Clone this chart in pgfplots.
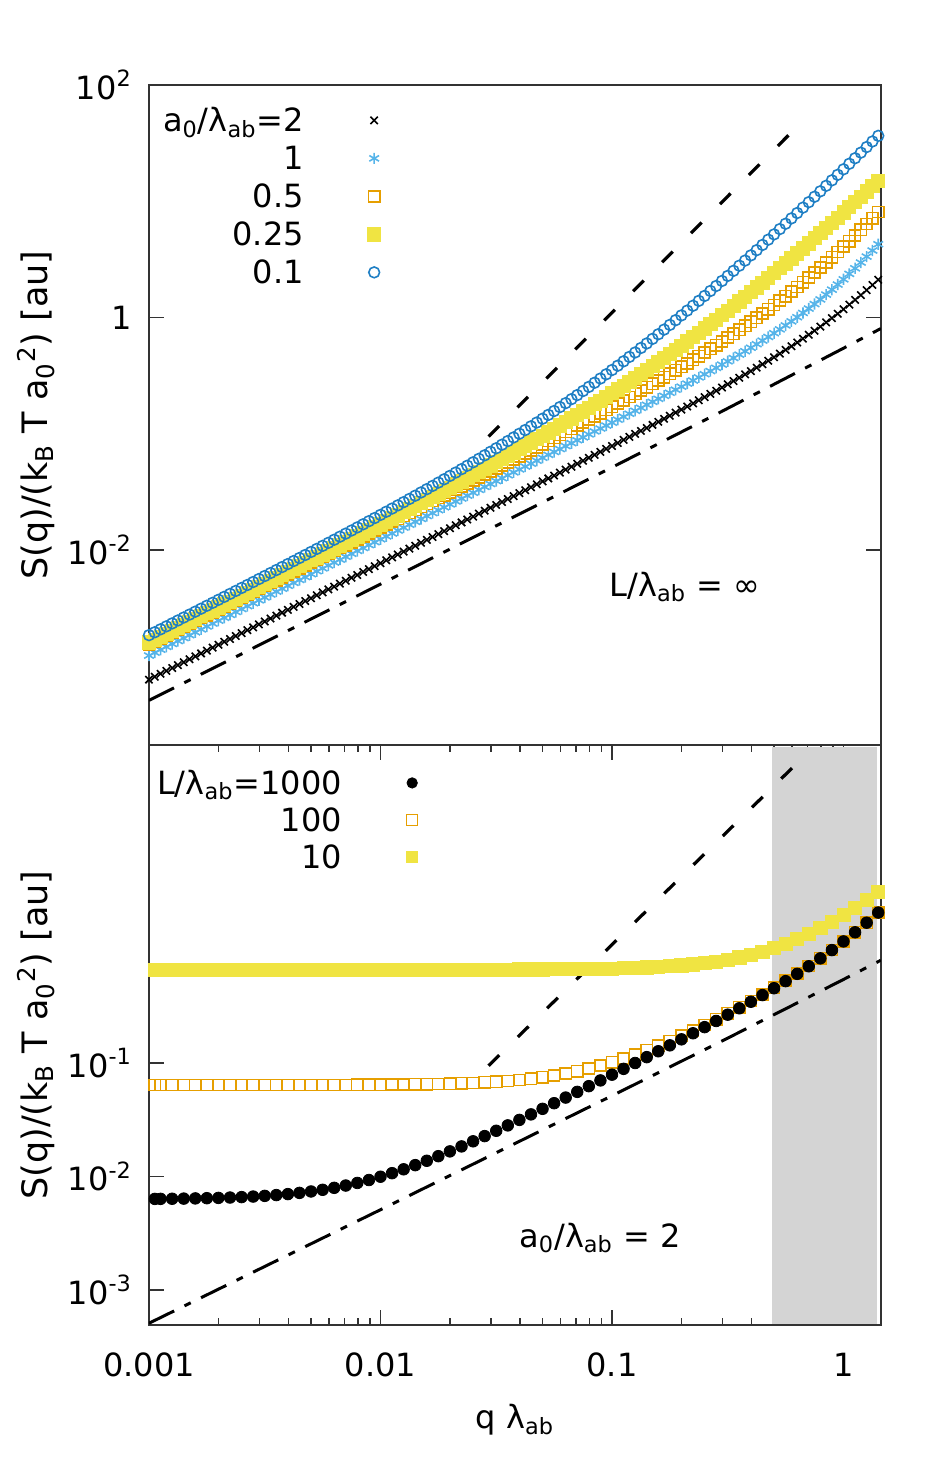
\documentclass[border=0pt]{standalone}
\usepackage{fontspec}
\setmainfont{DejaVu Sans}
\usepackage{pgfplots}
\usepackage{pgfplotstable}
\pgfplotsset{compat=1.18}

\definecolor{gpsky}{HTML}{56B4E9}
\definecolor{gporange}{HTML}{E69F00}
\definecolor{gpyellow}{HTML}{F0E442}
\definecolor{gpblue}{HTML}{1F7FC4}
\definecolor{bandgray}{HTML}{D4D4D4}
\definecolor{framegray}{HTML}{333333}

% S(q) for an infinite film, one column per a0/lambda_ab (2, 1, 0.5, 0.25, 0.1)
\pgfplotstableread{
q t1 t2 t3 t4 t5
0.001 7.70e-4 1.240e-3 1.552e-3 1.606e-3 1.857e-3
0.001122 8.64e-4 1.391e-3 1.741e-3 1.803e-3 2.086e-3
0.001259 9.69e-4 1.561e-3 1.954e-3 2.024e-3 2.344e-3
0.001413 1.088e-3 1.752e-3 2.193e-3 2.274e-3 2.634e-3
0.001585 1.220e-3 1.965e-3 2.461e-3 2.552e-3 2.959e-3
0.001778 1.369e-3 2.205e-3 2.761e-3 2.865e-3 3.325e-3
0.001995 1.536e-3 2.474e-3 3.098e-3 3.218e-3 3.739e-3
0.002239 1.724e-3 2.776e-3 3.478e-3 3.614e-3 4.205e-3
0.002512 1.934e-3 3.115e-3 3.903e-3 4.059e-3 4.729e-3
0.002818 2.170e-3 3.494e-3 4.380e-3 4.560e-3 5.320e-3
0.003162 2.435e-3 3.921e-3 4.916e-3 5.123e-3 5.988e-3
0.003548 2.732e-3 4.400e-3 5.518e-3 5.758e-3 6.742e-3
0.003981 3.065e-3 4.936e-3 6.194e-3 6.471e-3 7.594e-3
0.004467 3.440e-3 5.539e-3 6.954e-3 7.275e-3 8.558e-3
0.005012 3.859e-3 6.215e-3 7.806e-3 8.180e-3 9.649e-3
0.005623 4.330e-3 6.973e-3 8.763e-3 9.200e-3 1.0884e-2
0.006310 4.859e-3 7.824e-3 9.840e-3 1.0351e-2 1.2287e-2
0.007079 5.451e-3 8.778e-3 1.1047e-2 1.1648e-2 1.3877e-2
0.007943 6.116e-3 9.849e-3 1.2407e-2 1.3113e-2 1.5688e-2
0.008913 6.863e-3 1.1050e-2 1.3934e-2 1.4770e-2 1.7750e-2
0.01 7.715e-3 1.2401e-2 1.5651e-2 1.6641e-2 2.0100e-2
0.01122 8.658e-3 1.3914e-2 1.7581e-2 1.8759e-2 2.2785e-2
0.01259 9.718e-3 1.5614e-2 1.9755e-2 2.1160e-2 2.5861e-2
0.01413 1.0911e-2 1.7524e-2 2.2204e-2 2.3887e-2 2.9391e-2
0.01585 1.2244e-2 1.9658e-2 2.4949e-2 2.6970e-2 3.3434e-2
0.01778 1.3740e-2 2.2052e-2 2.8039e-2 3.0475e-2 3.8090e-2
0.01995 1.5424e-2 2.4745e-2 3.1528e-2 3.4472e-2 4.3476e-2
0.02239 1.7318e-2 2.7774e-2 3.5468e-2 3.9037e-2 4.9718e-2
0.02512 1.9441e-2 3.1163e-2 3.9899e-2 4.4237e-2 5.6948e-2
0.02818 2.1824e-2 3.4963e-2 4.4893e-2 5.0179e-2 6.5354e-2
0.03162 2.4505e-2 3.9237e-2 5.0543e-2 5.7002e-2 7.5181e-2
0.03548 2.7520e-2 4.4035e-2 5.6929e-2 6.4838e-2 8.6686e-2
0.03981 3.0908e-2 4.9420e-2 6.4148e-2 7.3856e-2 0.10020
0.04467 3.4718e-2 5.5471e-2 7.2323e-2 8.4260e-2 0.11611
0.05012 3.9001e-2 6.2261e-2 8.1583e-2 9.6294e-2 0.13493
0.05623 4.3817e-2 6.9884e-2 9.2082e-2 0.11024 0.15722
0.06310 4.9249e-2 7.8468e-2 0.10403 0.12648 0.18378
0.07079 5.5352e-2 8.8097e-2 0.11761 0.14539 0.21546
0.07943 6.2237e-2 9.8941e-2 0.13310 0.16754 0.25342
0.08913 7.0005e-2 0.11115 0.15079 0.19352 0.29903
0.1 7.8759e-2 0.12489 0.17103 0.22410 0.35400
0.1122 8.8649e-2 0.14039 0.19424 0.26022 0.42048
0.1259 9.9838e-2 0.15790 0.22097 0.30304 0.50111
0.1413 0.11252 0.17773 0.25183 0.35396 0.59914
0.1585 0.12684 0.20010 0.28744 0.41462 0.71868
0.1778 0.14311 0.22549 0.32878 0.48716 0.86469
0.1995 0.16164 0.25447 0.37708 0.57438 1.04385
0.2239 0.18283 0.28766 0.43373 0.67951 1.26402
0.2512 0.20699 0.32564 0.50026 0.80639 1.53491
0.2818 0.23470 0.36943 0.57889 0.96003 1.86882
0.3162 0.26666 0.42033 0.67252 1.14692 2.28181
0.3548 0.30365 0.47984 0.78458 1.37470 2.79313
0.3981 0.34666 0.54999 0.91948 1.65295 3.42700
0.4467 0.39697 0.63350 1.08299 1.99352 4.21343
0.5012 0.45621 0.73392 1.28271 2.41211 5.19261
0.5623 0.52645 0.85603 1.52811 2.92652 6.41003
0.6310 0.61065 1.00676 1.83268 3.56142 7.92874
0.7079 0.71216 1.19463 2.21272 4.34533 9.82294
0.7943 0.83607 1.43250 2.69140 5.31559 12.1885
0.8913 0.98879 1.73737 3.29856 6.51754 15.1431
1 1.17900 2.13300 4.07500 8.01000 18.8400
1.122 1.41876 2.65263 5.07524 9.86465 23.4655
1.259 1.72389 3.34323 6.37456 12.1748 29.2630
1.413 2.11712 4.27145 8.07676 15.0588 36.5416
1.46 2.25000 4.58950 8.65030 15.9996 38.9236
0.0010593 8.159e-4 1.3135e-3 1.6436e-3 1.7021e-3 1.9682e-3
0.0011885 9.153e-4 1.4737e-3 1.8443e-3 1.9107e-3 2.2108e-3
0.0013335 1.0271e-3 1.6535e-3 2.0696e-3 2.1450e-3 2.4838e-3
0.0014962 1.1524e-3 1.8553e-3 2.3225e-3 2.4083e-3 2.7911e-3
0.0016788 1.2931e-3 2.0817e-3 2.6063e-3 2.7042e-3 3.1369e-3
0.0018836 1.4509e-3 2.3357e-3 2.9249e-3 3.0365e-3 3.5261e-3
0.0021135 1.6281e-3 2.6207e-3 3.2826e-3 3.4102e-3 3.9647e-3
0.0023714 1.8268e-3 2.9405e-3 3.6841e-3 3.8303e-3 4.4590e-3
0.0026607 2.0498e-3 3.2993e-3 4.1347e-3 4.3025e-3 5.0161e-3
0.0029854 2.3001e-3 3.7019e-3 4.6408e-3 4.8337e-3 5.6446e-3
0.0033497 2.5810e-3 4.1536e-3 5.2088e-3 5.4314e-3 6.3541e-3
0.0037584 2.8961e-3 4.6604e-3 5.8467e-3 6.1040e-3 7.1556e-3
0.0042170 3.2498e-3 5.2291e-3 6.5631e-3 6.8612e-3 8.0616e-3
0.0047315 3.6467e-3 5.8671e-3 7.3674e-3 7.7139e-3 9.0866e-3
0.0053088 4.0920e-3 6.5829e-3 8.2709e-3 8.6748e-3 1.02473e-2
0.0059566 4.5919e-3 7.3862e-3 9.2859e-3 9.7580e-3 1.15633e-2
0.0066834 5.1529e-3 8.2874e-3 1.04263e-2 1.09797e-2 1.30569e-2
0.0074989 5.7826e-3 9.2986e-3 1.17077e-2 1.23587e-2 1.47540e-2
0.0084140 6.4894e-3 1.04334e-2 1.31479e-2 1.39162e-2 1.66853e-2
0.0094406 7.2827e-3 1.17063e-2 1.47666e-2 1.56763e-2 1.88858e-2
0.010593 8.1737e-3 1.31364e-2 1.65887e-2 1.76680e-2 2.13985e-2
0.011885 9.1731e-3 1.47389e-2 1.86354e-2 1.99214e-2 2.42697e-2
0.013335 1.02953e-2 1.65375e-2 2.09384e-2 2.24759e-2 2.75595e-2
0.014962 1.15552e-2 1.85559e-2 2.35303e-2 2.53742e-2 3.13359e-2
0.016788 1.29703e-2 2.08213e-2 2.64490e-2 2.86674e-2 3.56812e-2
0.018836 1.45587e-2 2.33626e-2 2.97349e-2 3.24119e-2 4.06900e-2
0.021135 1.63435e-2 2.62158e-2 3.34390e-2 3.66792e-2 4.64820e-2
0.023714 1.83476e-2 2.94173e-2 3.76139e-2 4.15470e-2 5.31936e-2
0.026607 2.05985e-2 3.30095e-2 4.23221e-2 4.71092e-2 6.09921e-2
0.029854 2.31282e-2 3.70428e-2 4.76379e-2 5.34793e-2 7.00827e-2
0.033497 2.59707e-2 4.15699e-2 5.36419e-2 6.07872e-2 8.07085e-2
0.037584 2.91653e-2 4.66516e-2 6.04284e-2 6.91885e-2 9.31671e-2
0.042170 3.27571e-2 5.23578e-2 6.81079e-2 7.88709e-2 0.107824
0.047315 3.67958e-2 5.87652e-2 7.68050e-2 9.00541e-2 0.125118
0.053088 4.13393e-2 6.59627e-2 8.66674e-2 0.103007 0.145595
0.059566 4.64528e-2 7.40505e-2 9.78661e-2 0.118049 0.169919
0.066834 5.22095e-2 8.31408e-2 0.110599 0.135566 0.198911
0.074989 5.86942e-2 9.33630e-2 0.125100 0.156028 0.233578
0.084140 6.60040e-2 0.104866 0.141647 0.180004 0.275170
0.094406 7.42474e-2 0.117814 0.160560 0.208179 0.325220
0.10593 0.083557 0.132414 0.182240 0.241408 0.385651
0.11885 0.094069 0.148873 0.207127 0.280701 0.458809
0.13335 0.105961 0.167472 0.235799 0.327349 0.547675
0.14962 0.119433 0.188520 0.268925 0.382893 0.655880
0.16788 0.134721 0.212396 0.307340 0.449267 0.788027
0.18836 0.152090 0.239534 0.352030 0.528809 0.949759
0.21135 0.171885 0.270504 0.404272 0.624482 1.14824
0.23714 0.194487 0.305962 0.465586 0.739884 1.39232
0.26607 0.220372 0.346748 0.537909 0.879512 1.69309
0.29854 0.250136 0.393950 0.623697 1.048955 2.06444
0.33497 0.284491 0.448926 0.726028 1.255154 2.52375
0.37584 0.324335 0.513450 0.848842 1.506757 3.09280
0.42170 0.370806 0.589873 0.997244 1.81461 3.79904
0.47315 0.425343 0.681301 1.177766 2.192047 4.67639
0.53088 0.489806 0.791902 1.398985 2.656002 5.76810
0.59566 0.566620 0.927354 1.672122 3.227388 7.12778
0.66834 0.658946 1.095338 2.011951 3.932563 8.82331
0.74989 0.770986 1.306442 2.438083 4.804423 10.93958
0.84140 0.908347 1.575260 2.976647 5.884200 13.58333
0.94406 1.078537 1.922004 3.662603 7.223409 16.88832
1.0593 1.291783 2.374863 4.543128 8.886900 21.02311
1.1885 1.561829 2.972908 5.681695 10.955725 26.19934
1.3335 1.907733 3.771200 7.165060 13.532503 32.68474
}\infinitefilm

% S(q) at a0/lambda_ab = 2, one column per L/lambda_ab (1000, 100, 10)
\pgfplotstableread{
q b1 b2 b3
0.00106 6.353e-3 0.06400 0.665
0.001122 6.359e-3 0.06401 0.665
0.001259 6.374e-3 0.06401 0.665
0.001413 6.393e-3 0.06401 0.665
0.001585 6.417e-3 0.06401 0.665
0.001778 6.447e-3 0.06401 0.665
0.001995 6.485e-3 0.06402 0.665
0.002239 6.532e-3 0.06402 0.665
0.002512 6.590e-3 0.06403 0.665
0.002818 6.663e-3 0.06404 0.665
0.003162 6.754e-3 0.06405 0.665
0.003548 6.867e-3 0.06406 0.665
0.003981 7.006e-3 0.06407 0.665
0.004467 7.178e-3 0.06409 0.665
0.005012 7.388e-3 0.06412 0.665
0.005623 7.645e-3 0.06415 0.665
0.006310 7.956e-3 0.06418 0.665
0.007079 8.331e-3 0.06423 0.6651
0.007943 8.781e-3 0.06429 0.6651
0.008913 9.316e-3 0.06437 0.6651
0.01 9.960e-3 0.06446 0.6652
0.01122 1.0707e-2 0.06458 0.6652
0.01259 1.1581e-2 0.06473 0.6652
0.01413 1.2599e-2 0.06492 0.6653
0.01585 1.3770e-2 0.06516 0.6654
0.01778 1.5116e-2 0.06546 0.6655
0.01995 1.6661e-2 0.06583 0.6656
0.02239 1.8428e-2 0.06630 0.6658
0.02512 2.0436e-2 0.06689 0.6660
0.02818 2.2715e-2 0.06762 0.6662
0.03162 2.5302e-2 0.06853 0.6665
0.03548 2.8232e-2 0.06967 0.6669
0.03981 3.1544e-2 0.07107 0.6674
0.04467 3.5285e-2 0.07281 0.6681
0.05012 3.9507e-2 0.07495 0.6689
0.05623 4.4268e-2 0.07756 0.6699
0.06310 4.9650e-2 0.08076 0.6711
0.07079 5.5709e-2 0.08462 0.6727
0.07943 6.2555e-2 0.08927 0.6747
0.08913 7.0288e-2 0.09485 0.6772
0.1 7.9011e-2 0.10148 0.6803
0.1122 8.8873e-2 0.10934 0.6842
0.1259 0.10004 0.11859 0.6892
0.1413 0.11270 0.12945 0.6954
0.1585 0.12700 0.14208 0.7031
0.1778 0.14324 0.15676 0.7129
0.1995 0.16177 0.17385 0.7251
0.2239 0.18294 0.19371 0.7404
0.2512 0.20709 0.21666 0.7596
0.2818 0.23479 0.24327 0.7836
0.3162 0.26674 0.27424 0.8137
0.3548 0.30372 0.31032 0.8512
0.3981 0.34671 0.35251 0.8981
0.4467 0.39702 0.40210 0.9564
0.5012 0.45626 0.46068 1.0292
0.5623 0.52649 0.53033 1.1196
0.6310 0.61068 0.61399 1.2318
0.7079 0.71218 0.71503 1.3709
0.7943 0.83610 0.83852 1.5428
0.8913 0.98881 0.99086 1.7546
1 1.17902 1.18074 2.0150
1.122 1.41877 1.42020 2.3338
1.259 1.72390 1.72508 2.7228
1.413 2.11713 2.11809 3.1955
1.46 nan nan 3.3466
}\finitefilm

% guide lines: S ~ q and S ~ q^2
\pgfplotstableread{
q s
0.001 5.1e-4
0.01 5.1e-3
0.1 0.0515
0.3 0.157
1 0.545
1.45 0.805
}\linearlaw

\pgfplotstableread{
q s
0.0293 0.0948
0.68 51.05
}\quadlaw

% key sample: a single mark 35pt to the right of the entry text
\newcommand{\legendmark}[1]{\path (0pt,0pt) (40pt,0pt); \draw[#1] plot coordinates {(35pt,0pt)};}
\newcommand{\labelfont}{\fontsize{17.5}{21}\selectfont}

\begin{document}
\fontsize{16}{19}\selectfont
\begin{tikzpicture}
\useasboundingbox (0,0) rectangle (470pt,742pt);

% upper panel: L/lambda_ab = infinity
\begin{axis}[
  xmode=log, ymode=log, scale only axis, width=366pt, height=330pt,
  at={(74.5pt,369.5pt)}, anchor=south west,
  xmin=0.001, xmax=1.452, ymin=2.11e-4, ymax=100,
  axis line style={line width=1.2pt, color=framegray},
  every tick/.style={line width=0.7pt, color=framegray},
  major tick length=7.5pt, minor tick length=3.5pt,
  tick align=inside,
  xtick=\empty, xminorticks=false, yminorticks=false,
  ytick={0.01,1,100},
  yticklabels={10\textsuperscript{-2},1,10\textsuperscript{2}},
  yticklabel style={xshift=-3pt},
  ylabel={S(q)/(k\textsubscript{B} T a\textsubscript{0}\textsuperscript{2}) [au]},
  every axis y label/.style={at={(axis description cs:-0.154,0.5)}, rotate=90, anchor=center, font=\labelfont},
  legend cell align=right,
  legend plot pos=right,
  legend image code/.code={\legendmark{#1}},
  legend style={at={(axis description cs:0.3224,0.9758)}, anchor=north east,
    draw=none, fill=none, inner xsep=0pt, inner ysep=0pt,
    nodes={inner sep=0pt, text height=15.3pt, text depth=3.7pt}},
]
\addplot[only marks, mark=x, mark size=2.6pt, color=black, mark options={line width=0.8pt}]
  table[x=q, y=t1]{\infinitefilm};
\addlegendentry{a\textsubscript{0}/λ\textsubscript{ab}=2}
\addplot[only marks, mark=asterisk, mark size=2.8pt, color=gpsky, mark options={line width=0.8pt}]
  table[x=q, y=t2]{\infinitefilm};
\addlegendentry{1}
\addplot[only marks, mark=square, mark size=2.8pt, color=gporange, mark options={line width=0.8pt}]
  table[x=q, y=t3]{\infinitefilm};
\addlegendentry{0.5}
\addplot[only marks, mark=square*, mark size=3.3pt, color=gpyellow]
  table[x=q, y=t4]{\infinitefilm};
\addlegendentry{0.25}
\addplot[only marks, mark=o, mark size=2.7pt, color=gpblue, mark options={line width=0.8pt}]
  table[x=q, y=t5]{\infinitefilm};
\addlegendentry{0.1}
\addplot[black, line width=1.6pt, dash pattern=on 7.5pt off 13pt, forget plot]
  table[x=q, y=s]{\quadlaw};
\addplot[black, line width=1.5pt, dash pattern=on 14pt off 5.75pt on 3.5pt off 5.75pt, forget plot]
  table[x=q, y=s]{\linearlaw};
\node at (axis description cs:0.732,0.239) {L/λ\textsubscript{ab} = ∞};
\end{axis}

% lower panel: a0/lambda_ab = 2, finite L
\begin{axis}[
  xmode=log, ymode=log, scale only axis, width=366pt, height=290pt,
  at={(74.5pt,79.5pt)}, anchor=south west,
  xmin=0.001, xmax=1.452, ymin=4.92e-4, ymax=63.4,
  axis line style={line width=1.2pt, color=framegray},
  every tick/.style={line width=0.7pt, color=framegray},
  major tick length=7.5pt, minor tick length=3.5pt,
  tick align=inside,
  xtick={0.001,0.01,0.1,1},
  xticklabels={0.001,0.01,0.1,1},
  xticklabel style={yshift=-8.5pt},
  minor xtick={0.002,0.003,0.004,0.005,0.006,0.007,0.008,0.009,0.02,0.03,0.04,0.05,0.06,0.07,0.08,0.09,0.2,0.3,0.4,0.5,0.6,0.7,0.8,0.9},
  yminorticks=false,
  ytick={0.001,0.01,0.1},
  yticklabels={10\textsuperscript{-3},10\textsuperscript{-2},10\textsuperscript{-1}},
  yticklabel style={xshift=-3pt},
  ytick pos=left,
  ylabel={S(q)/(k\textsubscript{B} T a\textsubscript{0}\textsuperscript{2}) [au]},
  every axis y label/.style={at={(axis description cs:-0.154,0.5)}, rotate=90, anchor=center, font=\labelfont},
  xlabel={q λ\textsubscript{ab}},
  every axis x label/.style={at={(axis description cs:0.5,-0.164)}, anchor=center},
  legend cell align=right,
  legend plot pos=right,
  legend image code/.code={\legendmark{#1}},
  legend style={at={(axis description cs:0.3743,0.9672)}, anchor=north east,
    draw=none, fill=none, inner xsep=0pt, inner ysep=0pt,
    nodes={inner sep=0pt, text height=15.05pt, text depth=3.45pt}},
]
\fill[bandgray] (axis cs:0.49,5.06e-4) rectangle (axis cs:1.40,61.5);
\addlegendimage{only marks, mark=*, mark size=2.6pt, color=black}
\addlegendentry{L/λ\textsubscript{ab}=1000}
\addlegendimage{only marks, mark=square, mark size=2.7pt, color=gporange, mark options={line width=0.7pt}}
\addlegendentry{100}
\addlegendimage{only marks, mark=square*, mark size=2.7pt, color=gpyellow}
\addlegendentry{10}
\addplot[only marks, mark=square, mark size=2.8pt, color=gporange, mark options={line width=0.75pt}, forget plot]
  table[x=q, y=b2]{\finitefilm};
\addplot[only marks, mark=square*, mark size=3.3pt, color=gpyellow, forget plot]
  table[x=q, y=b3]{\finitefilm};
\addplot[only marks, mark=*, mark size=2.9pt, color=black, forget plot]
  table[x=q, y=b1]{\finitefilm};
\addplot[black, line width=1.6pt, dash pattern=on 7.5pt off 13pt, forget plot]
  table[x=q, y=s]{\quadlaw};
\addplot[black, line width=1.5pt, dash pattern=on 14pt off 5.75pt on 3.5pt off 5.75pt, forget plot]
  table[x=q, y=s]{\linearlaw};
\node at (axis description cs:0.616,0.150) {a\textsubscript{0}/λ\textsubscript{ab} = 2};
\end{axis}
\end{tikzpicture}
\end{document}
